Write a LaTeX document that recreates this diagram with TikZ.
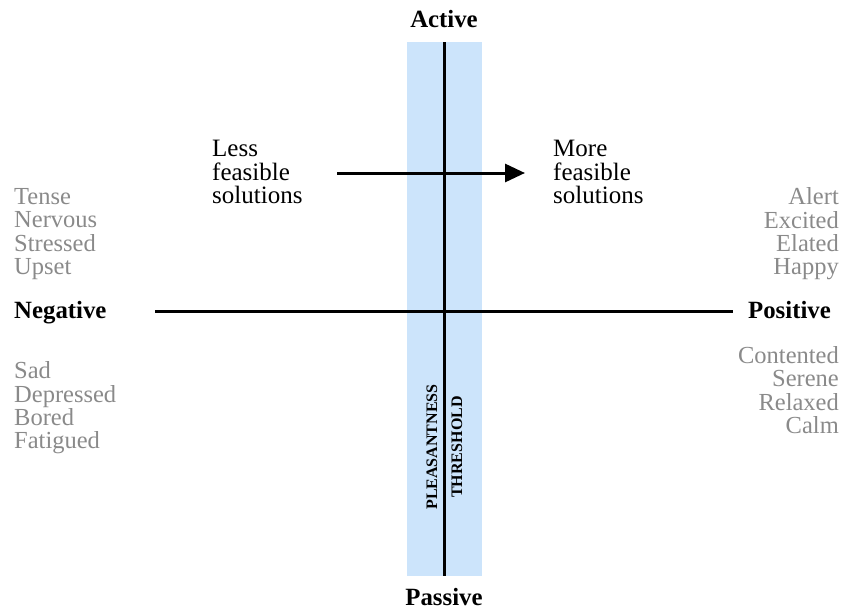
\documentclass[tikz,border=0pt]{standalone}
\usepackage{fontspec}
\setmainfont{Liberation Serif}
\usetikzlibrary{arrows.meta}
\definecolor{bandblue}{RGB}{204,228,251}
\definecolor{moodgray}{RGB}{138,138,138}

\begin{document}
\begin{tikzpicture}[x=1pt,y=-1pt,
  axislabel/.style={font=\fontsize{24.8}{26}\selectfont\bfseries,inner sep=0pt},
  mood/.style={font=\fontsize{24.5}{23.3}\selectfont,text=moodgray,inner sep=0pt},
  feasible/.style={font=\fontsize{25}{23.3}\selectfont,align=left,inner sep=0pt},
  threshold/.style={font=\fontsize{16}{18}\selectfont\bfseries,rotate=90,inner sep=0pt},
  axis/.style={line width=3pt}]
  \useasboundingbox (0,0) rectangle (855,611);
  % threshold band
  \fill[bandblue] (407,42) rectangle (482,576);
  \node[threshold] (pleas) at (432,447) {PLEASANTNESS};
  \node[threshold] (thres) at (457,447) {THRESHOLD};
  % axes
  \coordinate (top) at (444,42);
  \coordinate (bottom) at (444,576);
  \coordinate (left) at (155,311);
  \coordinate (right) at (733,311);
  \draw[axis] (top) -- (bottom);
  \draw[axis] (left) -- (right);
  \node[axislabel,anchor=base] (active) at (444,27) {Active};
  \node[axislabel,anchor=base] (passive) at (444,605) {Passive};
  \node[axislabel,anchor=base west] (neg) at (14,318) {Negative};
  \node[axislabel,anchor=base east] (pos) at (831,318) {Positive};
  % moods
  \node[mood,align=left,anchor=west] (negup) at (14,234) {Tense\\Nervous\\Stressed\\Upset};
  \node[mood,align=left,anchor=west] (negdown) at (14,408) {Sad\\Depressed\\Bored\\Fatigued};
  \node[mood,align=right,anchor=east] (posup) at (839,234) {Alert\\Excited\\Elated\\Happy};
  \node[mood,align=right,anchor=east] (posdown) at (839,390) {Contented\\Serene\\Relaxed\\Calm};
  % feasibility arrow
  \node[feasible,anchor=west] (less) at (212,172) {Less\\feasible\\solutions};
  \node[feasible,anchor=west] (more) at (553,172) {More\\feasible\\solutions};
  \coordinate (arrstart) at (337,173);
  \coordinate (arrend) at (525,173);
  \draw[axis,-{Triangle[length=20pt,width=18pt]}] (arrstart) -- (arrend);
\end{tikzpicture}
\end{document}
